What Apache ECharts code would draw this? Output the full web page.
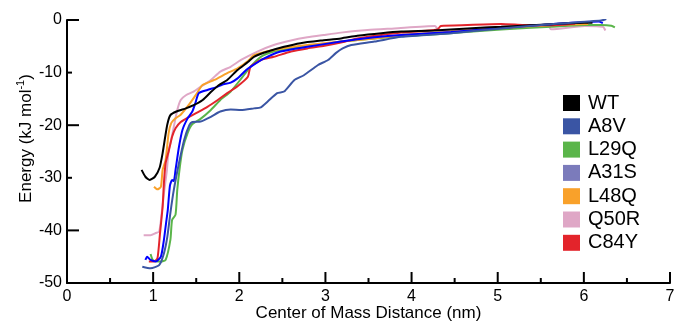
<!DOCTYPE html>
<html>
<head>
<meta charset="utf-8">
<script src="https://cdn.jsdelivr.net/npm/echarts@6/dist/echarts.min.js"></script>
<style>html,body{margin:0;padding:0;background:#fff}#c{width:675px;height:324px}</style>
</head>
<body>
<div id="c"></div>
<script>
const seriesNames = ['WT', 'A8V', 'L29Q', 'A31S', 'L48Q', 'Q50R', 'C84Y'];
const lineColors = ['#000000', '#3a55a4', '#5ab54a', '#0000ff', '#f9a12a', '#dfa7c6', '#e3242b'];
const legendColors = ['#000000', '#3a55a4', '#5ab54a', '#7b7bbb', '#f9a12a', '#dfa7c6', '#e3242b'];
const xTicks = [0, 1, 2, 3, 4, 5, 6, 7];
const xMinorTicks = [0.5, 1.5, 2.5, 3.5, 4.5, 5.5, 6.5];
const yTicks = [-50, -40, -30, -20, -10, 0];
const yLongTicks = [-40, -20, 0];
const yShortTicks = [-30, -10];

const WT = [[0.866,-28.5],[0.91,-29.8],[0.96,-30.4],[1.02,-29.8],[1.075,-28.1],[1.11,-25.3],[1.14,-22.2],[1.165,-19.8],[1.20,-18.1],[1.27,-17.4],[1.38,-16.8],[1.47,-16.2],[1.575,-15.2],[1.67,-13.7],[1.76,-12.4],[1.86,-11.4],[1.98,-9.5],[2.10,-8.0],[2.17,-7.0],[2.33,-6.0],[2.52,-5.1],[2.71,-4.4],[2.95,-3.9],[3.18,-3.5],[3.37,-3.0],[3.65,-2.5],[3.88,-2.2],[4.26,-2.0],[4.65,-1.6],[5.04,-1.3],[5.43,-0.95],[6.01,-0.5],[6.1,-0.5]];
const A8V = [[0.874,-46.9],[0.97,-47.2],[1.07,-46.6],[1.125,-44.4],[1.165,-41.2],[1.20,-36.7],[1.24,-32.3],[1.30,-27.2],[1.36,-22.8],[1.42,-20.0],[1.455,-19.4],[1.55,-19.3],[1.67,-18.4],[1.78,-17.4],[1.90,-17.0],[2.02,-17.1],[2.17,-16.8],[2.25,-16.6],[2.33,-15.5],[2.44,-13.9],[2.52,-13.6],[2.64,-11.4],[2.75,-10.5],[2.91,-8.6],[3.03,-7.6],[3.12,-6.3],[3.20,-5.4],[3.30,-4.75],[3.57,-4.1],[3.88,-3.2],[4.46,-2.5],[5.04,-1.6],[5.62,-0.8],[6.2,-0.1],[6.26,0.2]];
const L29Q = [[0.97,-44.5],[1.0,-45.7],[1.09,-45.9],[1.145,-45.6],[1.20,-41.8],[1.22,-38.0],[1.26,-37.0],[1.28,-32.3],[1.31,-27.9],[1.34,-24.7],[1.40,-21.5],[1.455,-19.8],[1.55,-18.8],[1.67,-17.1],[1.78,-15.2],[1.90,-13.6],[2.02,-11.2],[2.13,-8.9],[2.25,-7.0],[2.40,-6.0],[2.60,-5.4],[2.79,-4.9],[2.99,-4.6],[3.18,-4.1],[3.57,-3.5],[3.88,-3.1],[4.30,-2.7],[5.04,-1.8],[5.62,-1.3],[6.01,-0.95],[6.2,-0.95],[6.32,-1.1],[6.36,-1.4]];
const A31S = [[0.91,-45.6],[0.93,-45.0],[0.97,-45.6],[1.03,-45.9],[1.09,-45.0],[1.125,-41.8],[1.15,-38.6],[1.17,-36.1],[1.195,-31.5],[1.22,-30.4],[1.24,-30.6],[1.26,-28.5],[1.30,-24.1],[1.34,-20.9],[1.40,-18.7],[1.455,-17.4],[1.49,-15.8],[1.53,-13.9],[1.63,-13.3],[1.73,-12.8],[1.80,-12.3],[1.90,-11.9],[1.98,-11.1],[2.08,-9.5],[2.13,-8.9],[2.29,-7.3],[2.48,-6.0],[2.79,-5.1],[3.18,-4.1],[3.57,-3.3],[3.88,-2.85],[4.46,-2.3],[5.04,-1.5],[5.62,-0.8],[6.17,-0.3],[6.22,-0.6]];
const L48Q = [[1.01,-31.7],[1.05,-32.2],[1.09,-31.7],[1.11,-28.5],[1.145,-26.6],[1.18,-21.5],[1.21,-19.6],[1.26,-18.7],[1.32,-18.0],[1.42,-16.0],[1.51,-13.9],[1.57,-12.4],[1.71,-11.4],[1.86,-10.1],[1.98,-9.2],[2.10,-7.8],[2.17,-6.7],[2.40,-5.7],[2.79,-4.75],[3.18,-4.1],[3.57,-3.5],[3.88,-2.85],[4.46,-2.2],[5.04,-1.5],[5.62,-1.0],[6.05,-0.76]];
const Q50R = [[0.89,-40.9],[0.97,-40.9],[1.03,-40.5],[1.07,-40.2],[1.095,-37.4],[1.125,-33.0],[1.16,-28.5],[1.18,-24.7],[1.20,-23.5],[1.24,-20.3],[1.28,-17.1],[1.32,-15.2],[1.38,-14.3],[1.47,-13.6],[1.55,-12.7],[1.67,-11.4],[1.78,-9.8],[1.90,-8.9],[2.02,-7.6],[2.21,-6.0],[2.40,-4.75],[2.60,-3.9],[2.79,-3.3],[2.98,-2.85],[3.18,-2.4],[3.49,-1.9],[3.80,-1.6],[4.27,-1.14],[4.32,-1.9],[4.65,-1.77],[5.04,-1.27],[5.59,-1.14],[5.62,-1.77],[6.01,-1.14],[6.22,-1.27],[6.25,-2.0]];
const C84Y = [[0.95,-45.9],[1.01,-45.9],[1.05,-45.3],[1.08,-40.5],[1.11,-35.5],[1.125,-31.0],[1.145,-27.2],[1.18,-25.0],[1.22,-22.2],[1.26,-20.6],[1.32,-19.4],[1.42,-18.4],[1.51,-17.6],[1.63,-16.5],[1.75,-15.2],[1.86,-13.9],[1.98,-12.6],[2.10,-10.8],[2.13,-8.9],[2.25,-7.6],[2.40,-7.0],[2.60,-6.0],[2.79,-5.4],[2.99,-4.9],[3.18,-4.3],[3.37,-3.5],[3.65,-2.85],[3.88,-2.4],[4.30,-1.8],[4.34,-1.14],[4.65,-0.95],[5.04,-0.76],[5.3,-0.95],[5.6,-1.0],[5.9,-0.7]];

const seriesData = [WT, A8V, L29Q, A31S, L48Q, Q50R, C84Y];
const seriesZ = [8, 9, 3, 6, 4, 2, 5];

const X_MIN = 0, X_MAX = 7, Y_MIN = -50, Y_MAX = 0;

function tickSeries(values, isX, len) {
  return {
    type: 'custom', silent: true, clip: false, z: 20,
    data: values.map(v => isX ? [v, Y_MIN] : [X_MIN, v]),
    encode: { x: 0, y: 1 },
    renderItem: (params, api) => {
      const p = api.coord([api.value(0), api.value(1)]);
      const shape = isX ? { x1: p[0], y1: p[1], x2: p[0], y2: p[1] - len }
                        : { x1: p[0], y1: p[1], x2: p[0] + len, y2: p[1] };
      return { type: 'line', shape, style: { stroke: '#000', lineWidth: 2 } };
    }
  };
}

const chart = echarts.init(document.getElementById('c'));
const font = 'Liberation Sans, Arial, sans-serif';
chart.setOption({
  animation: false,
  backgroundColor: '#fff',
  grid: { left: 67, top: 20, right: 5, bottom: 41, containLabel: false, outerBoundsMode: 'none' },
  xAxis: {
    type: 'value', min: X_MIN, max: X_MAX, interval: 1,
    name: 'Center of Mass Distance (nm)', nameLocation: 'middle', nameGap: 22, nameMoveOverlap: false,
    nameTextStyle: { fontFamily: font, fontSize: 17, color: '#000' },
    axisLine: { show: true, onZero: false, lineStyle: { color: '#000', width: 2 } },
    axisTick: { show: false },
    axisLabel: { fontFamily: font, fontSize: 16, color: '#000', margin: 6,
      formatter: v => xTicks.includes(v) ? String(v) : '' },
    splitLine: { show: false }
  },
  yAxis: {
    type: 'value', min: Y_MIN, max: Y_MAX, interval: 10,
    name: '{a|Energy (kJ mol}{s|-1}{a|)}', nameLocation: 'middle', nameGap: 32, nameMoveOverlap: false,
    nameTextStyle: { fontFamily: font, fontSize: 17, color: '#000', padding: [0, 0, 0, 26],
      rich: { a: { fontFamily: font, fontSize: 17, color: '#000', lineHeight: 20, verticalAlign: 'bottom' },
              s: { fontFamily: font, fontSize: 11, color: '#000', lineHeight: 20, verticalAlign: 'top' } } },
    axisLine: { show: true, onZero: false, lineStyle: { color: '#000', width: 2 } },
    axisTick: { show: false },
    axisLabel: { fontFamily: font, fontSize: 16, color: '#000', margin: 5,
      formatter: v => yTicks.includes(v) ? String(v) : '' },
    splitLine: { show: false }
  },
  legend: {
    orient: 'vertical', left: 558, top: 88,
    itemWidth: 17, itemHeight: 16, itemGap: 3.3, icon: 'rect',
    textStyle: { fontFamily: font, fontSize: 20, color: '#000', padding: [0, 0, 0, 3] },
    data: seriesNames.map((n, i) => ({ name: n, icon: 'rect', itemStyle: { color: legendColors[i] } }))
  },
  series: seriesNames.map((n, i) => ({
    name: n, type: 'line', data: seriesData[i], showSymbol: false, symbol: 'none',
    smooth: 0.2, color: legendColors[i],
    lineStyle: { color: lineColors[i], width: 2 },
    z: seriesZ[i]
  })).concat([
    tickSeries(xTicks, true, 11),
    tickSeries(xMinorTicks, true, 5),
    tickSeries(yLongTicks, false, 12),
    tickSeries(yShortTicks, false, 5)
  ])
});
</script>
</body>
</html>
